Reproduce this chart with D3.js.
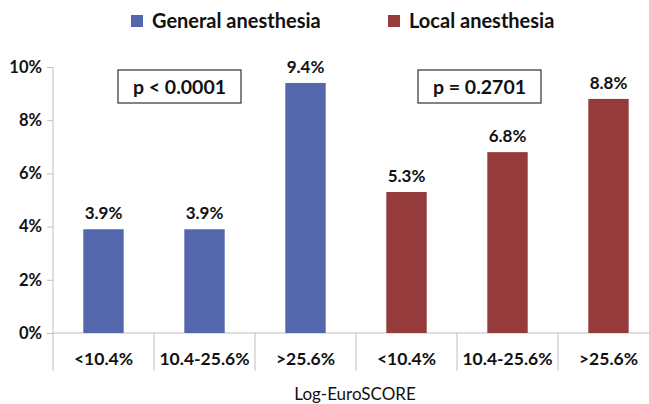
<!DOCTYPE html>
<html>
<head>
<meta charset="utf-8">
<script src="https://cdn.jsdelivr.net/npm/d3@7"></script>
<style>
  html, body { margin: 0; padding: 0; background: #fff; }
  svg text { font-family: Lato, "Open Sans", sans-serif; fill: #111; }
</style>
</head>
<body>
<svg id="chart" width="649" height="404"></svg>
<script>
// Mortality by Log-EuroSCORE band, split by anesthesia type
const groups = ["General anesthesia", "Local anesthesia"];
const scoreBands = ["<10.4%", "10.4-25.6%", ">25.6%"];
const generalValues = [3.9, 3.9, 9.4];
const localValues = [5.3, 6.8, 8.8];
const pValues = ["p < 0.0001", "p = 0.2701"];
const yTicks = [0, 2, 4, 6, 8, 10];
const xTitle = "Log-EuroSCORE";

const colors = ["#5467ad", "#953b3b"];

const rows = [];
[generalValues, localValues].forEach((vals, g) => {
  vals.forEach((v, i) => rows.push({ key: g + "|" + i, group: g, band: scoreBands[i], value: v }));
});

const svg = d3.select("#chart");
const plotLeft = 53, plotRight = 659, plotTop = 67, zeroY = 333, axisBottom = 371;

const x = d3.scaleBand().domain(rows.map(d => d.key)).range([plotLeft, plotRight]).paddingInner(0).paddingOuter(0);
const y = d3.scaleLinear().domain([0, 10]).range([zeroY, plotTop]);
const barW = x.bandwidth() * 0.4;

// y axis
const yAxis = d3.axisLeft(y).tickValues(yTicks).tickSize(6).tickPadding(5).tickFormat(d => d + "%");
const gy = svg.append("g").attr("transform", `translate(${plotLeft},0)`).call(yAxis);
gy.select(".domain").remove();
gy.selectAll(".tick line").attr("stroke", "#bfbfbf");
gy.selectAll(".tick text").style("font-size", "16.5px").style("font-weight", "bold").attr("fill", "#111");
svg.append("line").attr("x1", plotLeft).attr("x2", plotLeft).attr("y1", plotTop).attr("y2", axisBottom)
  .attr("stroke", "#bfbfbf");

// baseline
svg.append("line").attr("x1", plotLeft).attr("x2", plotRight).attr("y1", zeroY).attr("y2", zeroY)
  .attr("stroke", "#bfbfbf");

// category separators
svg.selectAll("line.sep").data(rows.slice(1)).join("line").attr("class", "sep")
  .attr("x1", d => x(d.key)).attr("x2", d => x(d.key))
  .attr("y1", zeroY).attr("y2", axisBottom)
  .attr("stroke", "#bfbfbf");

// bars
svg.selectAll("rect.bar").data(rows).join("rect").attr("class", "bar")
  .attr("x", d => x(d.key) + (x.bandwidth() - barW) / 2)
  .attr("width", barW)
  .attr("y", d => y(d.value))
  .attr("height", d => zeroY - y(d.value))
  .attr("fill", d => colors[d.group]);

// value labels
svg.selectAll("text.val").data(rows).join("text").attr("class", "val")
  .attr("x", d => x(d.key) + x.bandwidth() / 2)
  .attr("y", d => y(d.value) - 10)
  .attr("text-anchor", "middle")
  .style("font-size", "17px").style("font-weight", "bold")
  .text(d => d.value.toFixed(1) + "%");

// category labels
svg.selectAll("text.cat").data(rows).join("text").attr("class", "cat")
  .attr("x", d => x(d.key) + x.bandwidth() / 2)
  .attr("y", 365)
  .attr("text-anchor", "middle")
  .style("font-size", "17.5px").style("font-weight", "bold")
  .text(d => d.band);

// axis title
svg.append("text").attr("x", 355).attr("y", 400)
  .attr("text-anchor", "middle").style("font-size", "17px")
  .text(xTitle);

// p-value boxes
const boxX = [118, 418];
groups.forEach((g, gi) => {
  svg.append("rect").attr("x", boxX[gi]).attr("y", 70).attr("width", 123).attr("height", 33)
    .attr("fill", "#fff").attr("stroke", "#333").attr("stroke-width", 1.2);
  svg.append("text").attr("x", boxX[gi] + 61.5).attr("y", 93.5)
    .attr("text-anchor", "middle").style("font-size", "19.5px").style("font-weight", "bold")
    .text(pValues[gi]);
});

// legend
const legendX = [131, 388];
groups.forEach((g, gi) => {
  svg.append("rect").attr("x", legendX[gi]).attr("y", 15).attr("width", 12).attr("height", 12)
    .attr("fill", colors[gi]);
  svg.append("text").attr("x", legendX[gi] + 21).attr("y", 28)
    .style("font-size", "20px").style("font-weight", "bold")
    .text(g);
});
</script>
</body>
</html>
